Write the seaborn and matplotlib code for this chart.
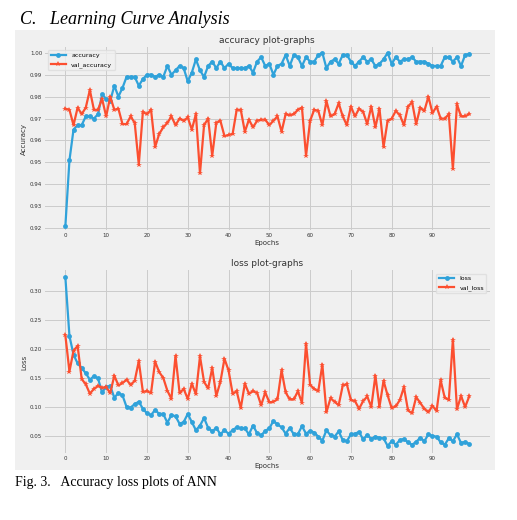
import numpy as np
import pandas as pd
import matplotlib
matplotlib.use("Agg")
import matplotlib.pyplot as plt
import seaborn as sns
from matplotlib.patches import Rectangle

# values, one row of ten epochs per line
accuracy = [
    .921, .951, .965, .967, .967, .971, .971, .970, .972, .981,
    .979, .978, .985, .980, .984, .989, .989, .989, .985, .988,
    .990, .990, .989, .990, .989, .994, .990, .992, .994, .993,
    .987, .991, .997, .992, .989, .994, .996, .993, .996, .993,
    .995, .993, .993, .993, .993, .994, .991, .996, .998, .994,
    .995, .990, .994, .995, .999, .994, .999, .998, .994, .998,
    .996, .996, .999, 1.000, .993, .996, .997, .995, .999, .999,
    .996, .994, .996, .998, .996, .997, .994, .995, .997, 1.000,
    .995, .998, .996, .997, .997, .998, .996, .996, .996, .995,
    .994, .994, .994, .998, .998, .996, .998, .994, .999, .9995,
]
val_accuracy = [
    .9745, .974, .967, .975, .972, .975, .983, .974, .974, .979,
    .971, .980, .974, .9745, .9675, .9675, .971, .968, .949, .973,
    .972, .974, .957, .963, .966, .968, .971, .967, .970, .969,
    .9705, .965, .972, .945, .967, .970, .953, .968, .969, .962,
    .9625, .963, .974, .974, .964, .9695, .966, .969, .9695, .9695,
    .967, .969, .971, .964, .972, .9715, .972, .974, .975, .953,
    .969, .974, .9735, .967, .978, .971, .972, .977, .971, .967,
    .9755, .971, .9745, .973, .9675, .9755, .966, .9745, .957, .969,
    .970, .9735, .9715, .967, .9755, .9775, .9675, .975, .9735, .980,
    .9725, .9755, .970, .970, .972, .947, .9765, .971, .971, .972,
]
loss = [
    .323, .222, .190, .175, .167, .158, .147, .153, .149, .125,
    .135, .136, .116, .124, .120, .100, .099, .105, .109, .097,
    .089, .086, .095, .088, .088, .073, .086, .084, .071, .074,
    .088, .074, .060, .068, .081, .064, .058, .064, .053, .060,
    .054, .060, .065, .063, .063, .053, .068, .055, .051, .059,
    .063, .076, .070, .065, .054, .064, .053, .053, .067, .054,
    .059, .056, .049, .042, .060, .051, .049, .058, .043, .041,
    .053, .054, .057, .044, .052, .045, .049, .047, .046, .033,
    .041, .035, .043, .045, .039, .035, .040, .047, .041, .053,
    .050, .049, .039, .035, .046, .041, .053, .038, .040, .036,
]
val_loss = [
    .223, .161, .197, .205, .148, .139, .123, .131, .136, .133,
    .134, .124, .154, .137, .141, .147, .138, .145, .179, .126,
    .127, .124, .178, .160, .150, .128, .114, .188, .124, .131,
    .114, .140, .122, .187, .143, .132, .167, .119, .143, .183,
    .163, .123, .127, .098, .140, .123, .127, .124, .103, .125,
    .108, .109, .113, .163, .125, .113, .113, .127, .107, .209,
    .138, .131, .127, .173, .091, .115, .109, .103, .137, .139,
    .112, .110, .097, .110, .118, .100, .154, .100, .145, .120,
    .098, .101, .112, .134, .094, .089, .117, .107, .097, .091,
    .102, .093, .146, .116, .112, .216, .096, .119, .100, .118,
]
epochs = np.arange(len(accuracy))

BLUE = "#30a2da"
RED = "#fc4f30"
BG = "#f0f0f0"

plt.rcParams.update({"font.family": ["DejaVu Sans"], "axes.linewidth": 0})

fig = plt.figure(figsize=(5.17, 5.2), dpi=100)
bg = Rectangle((15 / 517, 1 - 470 / 520), 480 / 517, 440 / 520,
               transform=fig.transFigure, facecolor=BG, edgecolor="none")
bg.set_zorder(-10)
fig.add_artist(bg)

fig.text(20 / 517, 1 - 20 / 520, "C.   Learning Curve Analysis", fontsize=13,
         style="italic", family=["Liberation Serif", "DejaVu Serif"], va="center")
fig.text(15 / 517, 1 - 482 / 520, "Fig. 3.   Accuracy loss plots of ANN",
         fontsize=10, family=["Liberation Serif", "DejaVu Serif"], va="center")

ax1 = fig.add_axes([0.087, 0.557, 0.86, 0.352])
ax2 = fig.add_axes([0.087, 0.128, 0.86, 0.352])

panels = [
    (ax1, accuracy, val_accuracy, "accuracy", "val_accuracy", "Accuracy",
     "accuracy plot-graphs", "upper left", np.arange(0.92, 1.001, 0.01)),
    (ax2, loss, val_loss, "loss", "val_loss", "Loss",
     "loss plot-graphs", "upper right", np.arange(0.05, 0.301, 0.05)),
]

for ax, tr, va, lt, lv, ylab, title, loc, yt in panels:
    ax.set_zorder(1)
    ax.set_facecolor(BG)
    df = pd.DataFrame({"epoch": epochs, lt: tr, lv: va})
    sns.lineplot(data=df, x="epoch", y=lt, ax=ax, color=BLUE, marker="o",
                 markersize=3.5, markeredgewidth=0, linewidth=1.6, label=lt)
    sns.lineplot(data=df, x="epoch", y=lv, ax=ax, color=RED, marker="*",
                 markersize=4, markeredgewidth=0, linewidth=1.6, label=lv)
    ax.set_title(title, fontsize=6.5, pad=3, color="#333333")
    ax.set_xlabel("Epochs", fontsize=5, labelpad=1, color="#333333")
    ax.set_ylabel(ylab, fontsize=5, labelpad=2, color="#333333")
    ax.set_xticks(np.arange(0, 100, 10))
    ax.set_yticks(yt)
    ax.set_yticklabels([f"{v:.2f}" for v in yt])
    ax.set_xlim(-5, 104)
    ax.tick_params(labelsize=4, length=0, pad=2, colors="#333333")
    ax.grid(True, color="#cbcbcb", linewidth=0.7)
    for s in ax.spines.values():
        s.set_visible(False)
    ax.legend(loc=loc, fontsize=4.5, frameon=True, facecolor=BG,
              edgecolor="#dddddd", handlelength=2.5)

ax1.set_ylim(0.919, 1.0025)
ax2.set_ylim(0.02, 0.335)

fig.savefig("out.png", dpi=100, facecolor="white")
